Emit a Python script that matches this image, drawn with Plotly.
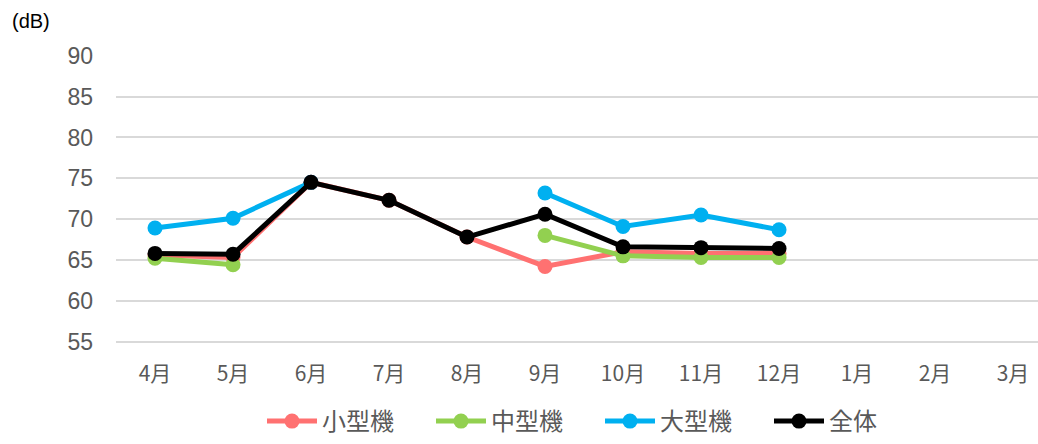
import plotly.graph_objects as go

months = ["4月", "5月", "6月", "7月", "8月", "9月", "10月", "11月", "12月", "1月", "2月", "3月"]
small = [65.6, 65.3, 74.5, 72.3, 67.8, 64.2, 66.0, 65.8, 65.8, None, None, None]
medium = [65.2, 64.4, None, None, None, 68.0, 65.5, 65.3, 65.3, None, None, None]
large = [68.9, 70.1, 74.5, None, None, 73.2, 69.1, 70.5, 68.7, None, None, None]
total = [65.8, 65.7, 74.5, 72.3, 67.8, 70.6, 66.6, 66.5, 66.4, None, None, None]

series = [
    ("小型機", small, "#ff7171"),
    ("中型機", medium, "#92d050"),
    ("大型機", large, "#00b0f0"),
    ("全体", total, "#000000"),
]

fig = go.Figure()
for name, vals, color in series:
    fig.add_trace(go.Scatter(
        x=months, y=vals, name=name, mode="lines+markers",
        line=dict(color=color, width=5),
        marker=dict(color=color, size=15),
        connectgaps=False,
    ))

fig.update_layout(
    width=1038, height=444,
    margin=dict(l=116, r=0, t=55, b=100, autoexpand=False),
    paper_bgcolor="white", plot_bgcolor="white",
    showlegend=True,
    legend=dict(
        orientation="h", x=(262 - 116) / 922, xanchor="left",
        yref="container", y=0, yanchor="bottom",
        font=dict(family="Noto Sans CJK JP", size=24, color="#595959"),
        entrywidth=104, itemwidth=50, tracegroupgap=0,
        bgcolor="rgba(0,0,0,0)",
    ),
    xaxis=dict(
        type="category", range=[-0.5, 11.32], automargin=False,
        showgrid=False, showline=False, ticks="",
        tickfont=dict(family="Noto Sans CJK JP", size=21, color="#595959"),
        ticklabelstandoff=15,
    ),
    yaxis=dict(
        range=[54.7, 90.1], tickvals=[55, 60, 65, 70, 75, 80, 85, 90],
        automargin=False,
        showgrid=True, gridcolor="#d9d9d9", gridwidth=2,
        zeroline=False, showline=False, ticks="",
        tickfont=dict(family="Liberation Sans", size=23, color="#595959"),
        ticklabelstandoff=22,
    ),
    annotations=[dict(
        text="(dB)", xref="paper", yref="paper", x=-116 / 922, y=1 + 34 / 289,
        xanchor="left", yanchor="middle", showarrow=False, xshift=10,
        font=dict(family="Liberation Sans", size=20, color="#000000"),
    )],
)

fig.write_html(
    "out.html",
    config={"displayModeBar": False},
    post_script="document.body.style.margin='0';document.body.style.overflow='hidden';",
)
